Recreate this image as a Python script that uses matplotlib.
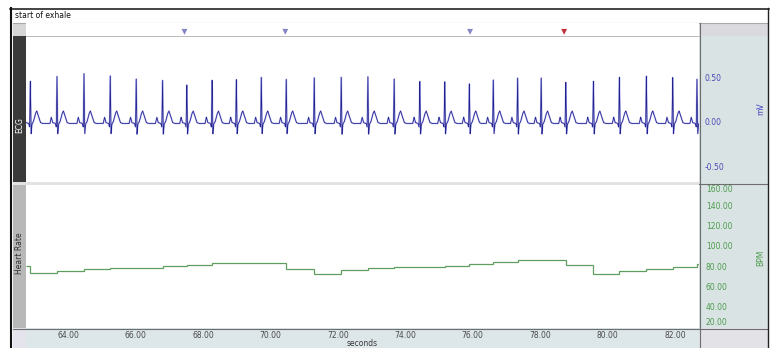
"""Recreate a two-channel recording screenshot: ECG trace above, stepped heart rate below."""

import matplotlib
matplotlib.use("Agg")
import matplotlib.pyplot as plt
from matplotlib.patches import Rectangle
from matplotlib.ticker import FormatStrFormatter
import numpy as np

W, H = 771, 348

# time axis (seconds)
x_start, x_end = 62.75, 82.71
x_ticks = [64, 66, 68, 70, 72, 74, 76, 78, 80, 82]

# R-peak times (the rate channel steps at the same times)
beat_times = [62.88, 63.67, 64.47, 65.25, 66.02, 66.80, 67.52, 68.27, 68.99,
              69.73, 70.47, 71.30, 72.10, 72.89, 73.67, 74.43, 75.17, 75.90,
              76.61, 77.33, 78.03, 78.76, 79.58, 80.35, 81.15, 81.93, 82.65]
r_amplitudes = [0.46, 0.51, 0.54, 0.52, 0.49, 0.48, 0.43, 0.48, 0.48,
                0.50, 0.48, 0.50, 0.51, 0.52, 0.50, 0.47, 0.46, 0.43,
                0.47, 0.50, 0.51, 0.46, 0.47, 0.51, 0.52, 0.50, 0.48]

# one PQRST complex read from a single beat (s relative to R, mV)
beat_shape_dt = [-0.30, -0.21, -0.17, -0.13, -0.05, -0.022, 0.0, 0.022, 0.045,
                 0.09, 0.15, 0.19, 0.24, 0.30, 0.36]
beat_shape_mv = [-0.02, -0.02, 0.05, -0.01, -0.02, -0.06, 0.50, -0.14, -0.03,
                 0.00, 0.09, 0.12, 0.06, -0.01, -0.02]
ecg_baseline = -0.02

# heart rate (BPM) held between beats: first value is before the first beat
hr_values = [80.0, 73.4, 75.4, 77.0, 78.0, 78.0, 79.7, 81.0, 83.0, 83.3,
             82.7, 77.3, 71.8, 76.1, 77.7, 78.7, 78.7, 80.0, 81.7, 84.2,
             85.6, 86.2, 81.0, 72.4, 75.1, 77.0, 79.3, 81.7]

marker_times = [67.45, 70.44, 75.92, 78.71]
marker_colors = ["#8585c8", "#8585c8", "#8585c8", "#c0303a"]

ecg_ticks = [-0.5, 0.0, 0.5]
hr_ticks = [20, 40, 60, 80, 100, 120, 140, 160]

FONT = 5.5


def px_rect(x0, y0, x1, y1):
    """Pixel box (top-left origin) -> figure fraction [l, b, w, h]."""
    return [x0 / W, 1 - y1 / H, (x1 - x0) / W, (y1 - y0) / H]


def build_ecg_trace():
    t = np.linspace(x_start, x_end, 12000)
    y = np.full_like(t, ecg_baseline)
    r_idx = beat_shape_dt.index(0.0)
    half = max(abs(beat_shape_dt[0]), beat_shape_dt[-1])
    for tb, amp in zip(beat_times, r_amplitudes):
        shape = list(beat_shape_mv)
        shape[r_idx] = amp
        m = np.abs(t - tb) <= half
        y[m] = np.interp(t[m] - tb, beat_shape_dt, shape)
    return t, y


def draw_frame(fig):
    """Window chrome: panels, label columns, borders, in pixel coords."""
    bg = fig.add_axes([0, 0, 1, 1], zorder=-1)
    bg.set_xlim(0, W)
    bg.set_ylim(H, 0)
    bg.axis("off")

    boxes = [
        (13, 9, 768, 23, "white"),          # title bar
        (13, 23, 26, 36, "#d6d6d6"),        # marker strip, left corner
        (699, 23, 768, 36, "#dadade"),      # marker strip, right corner
        (13, 36, 26, 182, "#3a3a3a"),       # ECG label column
        (13, 182, 699, 185, "#e2e2e2"),     # separator band
        (13, 185, 26, 328, "#b8b8b8"),      # heart rate label column
        (699, 36, 768, 328, "#d9e3e4"),     # right value scales
        (13, 328, 26, 348, "#e5e3eb"),
        (26, 328, 699, 348, "#dde6e8"),     # time scale strip
        (699, 328, 768, 348, "#e3e3e7"),
    ]
    for x0, y0, x1, y1, c in boxes:
        bg.add_patch(Rectangle((x0, y0), x1 - x0, y1 - y0, facecolor=c, edgecolor="none"))

    # borders
    bg.plot([13, 768], [22.5, 22.5], color="#a8a8a8", lw=0.8)
    bg.plot([699.5, 699.5], [23, 348], color="#6e6e6e", lw=0.8)
    bg.plot([699, 768], [183.5, 183.5], color="#6e6e6e", lw=0.8)
    bg.plot([13, 768], [328.5, 328.5], color="#6e6e6e", lw=0.8)
    bg.plot([10, 769], [8.7, 8.7], color="#111111", lw=1.1)
    bg.plot([11.4, 11.4], [8, 348], color="#111111", lw=1.5)
    bg.plot([768.3, 768.3], [8, 348], color="#222222", lw=1.0)

    bg.text(15, 15.5, "start of exhale", fontsize=FONT, ha="left", va="center", color="#111111")
    bg.text(19.5, 125, "ECG", fontsize=FONT, rotation=90, ha="center", va="center", color="white")
    bg.text(19.5, 253, "Heart Rate", fontsize=FONT, rotation=90, ha="center", va="center",
            color="#303030")


def main():
    fig = plt.figure(figsize=(W / 100, H / 100), dpi=100)
    draw_frame(fig)

    # event markers above the traces
    ax_mk = fig.add_axes(px_rect(26, 23, 699, 36), zorder=1)
    ax_mk.set_xlim(x_start, x_end)
    ax_mk.set_ylim(0, 1)
    ax_mk.scatter(marker_times, [0.32] * len(marker_times), marker="v", s=18,
                  c=marker_colors, linewidths=0)
    ax_mk.set_xticks([])
    ax_mk.set_yticks([])
    for s in ax_mk.spines.values():
        s.set_visible(False)

    # ECG channel
    t, ecg = build_ecg_trace()
    ax_ecg = fig.add_axes(px_rect(26, 36, 699, 182), zorder=1)
    ax_ecg.plot(t, ecg, color="#8f8fe8", lw=1.2, alpha=0.6)
    ax_ecg.plot(t, ecg, color="#23238f", lw=0.55)
    ax_ecg.set_xlim(x_start, x_end)
    ax_ecg.set_ylim(-0.678, 0.963)
    ax_ecg.set_xticks([])
    ax_ecg.set_yticks(ecg_ticks)
    ax_ecg.yaxis.set_major_formatter(FormatStrFormatter("%.2f"))
    ax_ecg.tick_params(axis="y", left=False, right=False, labelleft=False, labelright=True,
                       length=0, pad=4.3, labelsize=FONT, labelcolor="#4b4bb4")
    ax_ecg.yaxis.set_label_position("right")
    ax_ecg.set_ylabel("mV", fontsize=FONT, color="#4040c0")
    ax_ecg.yaxis.set_label_coords((756 - 26) / 673, 0.5)
    for s in ax_ecg.spines.values():
        s.set_visible(False)
    ax_ecg.spines["top"].set_visible(True)
    ax_ecg.spines["top"].set_color("#b0b0b0")
    ax_ecg.spines["top"].set_linewidth(0.6)

    # heart rate channel
    ax_hr = fig.add_axes(px_rect(26, 185, 699, 328), zorder=1)
    edges = [x_start] + beat_times + [x_end]
    ax_hr.stairs(hr_values, edges, baseline=None, color="#5e9e5e", lw=0.9)
    ax_hr.set_xlim(x_start, x_end)
    ax_hr.set_ylim(18.9, 160)
    ax_hr.set_yticks(hr_ticks)
    ax_hr.yaxis.set_major_formatter(FormatStrFormatter("%.2f"))
    ax_hr.tick_params(axis="y", left=False, right=False, labelleft=False, labelright=True,
                      length=0, pad=5.0, labelsize=FONT, labelcolor="#4c9c4c")
    ticks = ax_hr.yaxis.get_major_ticks()
    ticks[0].label2.set_va("bottom")
    ticks[-1].label2.set_va("top")
    ax_hr.yaxis.set_label_position("right")
    ax_hr.set_ylabel("BPM", fontsize=FONT, color="#4c9c4c")
    ax_hr.yaxis.set_label_coords((756 - 26) / 673, 0.49)

    ax_hr.set_xticks(x_ticks)
    ax_hr.xaxis.set_major_formatter(FormatStrFormatter("%.2f"))
    ax_hr.tick_params(axis="x", length=0, pad=2.2, labelsize=FONT, labelcolor="#4a4a4a")
    ax_hr.set_xlabel("seconds", fontsize=FONT, color="#3a3a3a", labelpad=-0.5)
    for s in ax_hr.spines.values():
        s.set_visible(False)

    fig.savefig("out.png", dpi=100)
    plt.close(fig)


if __name__ == "__main__":
    main()
